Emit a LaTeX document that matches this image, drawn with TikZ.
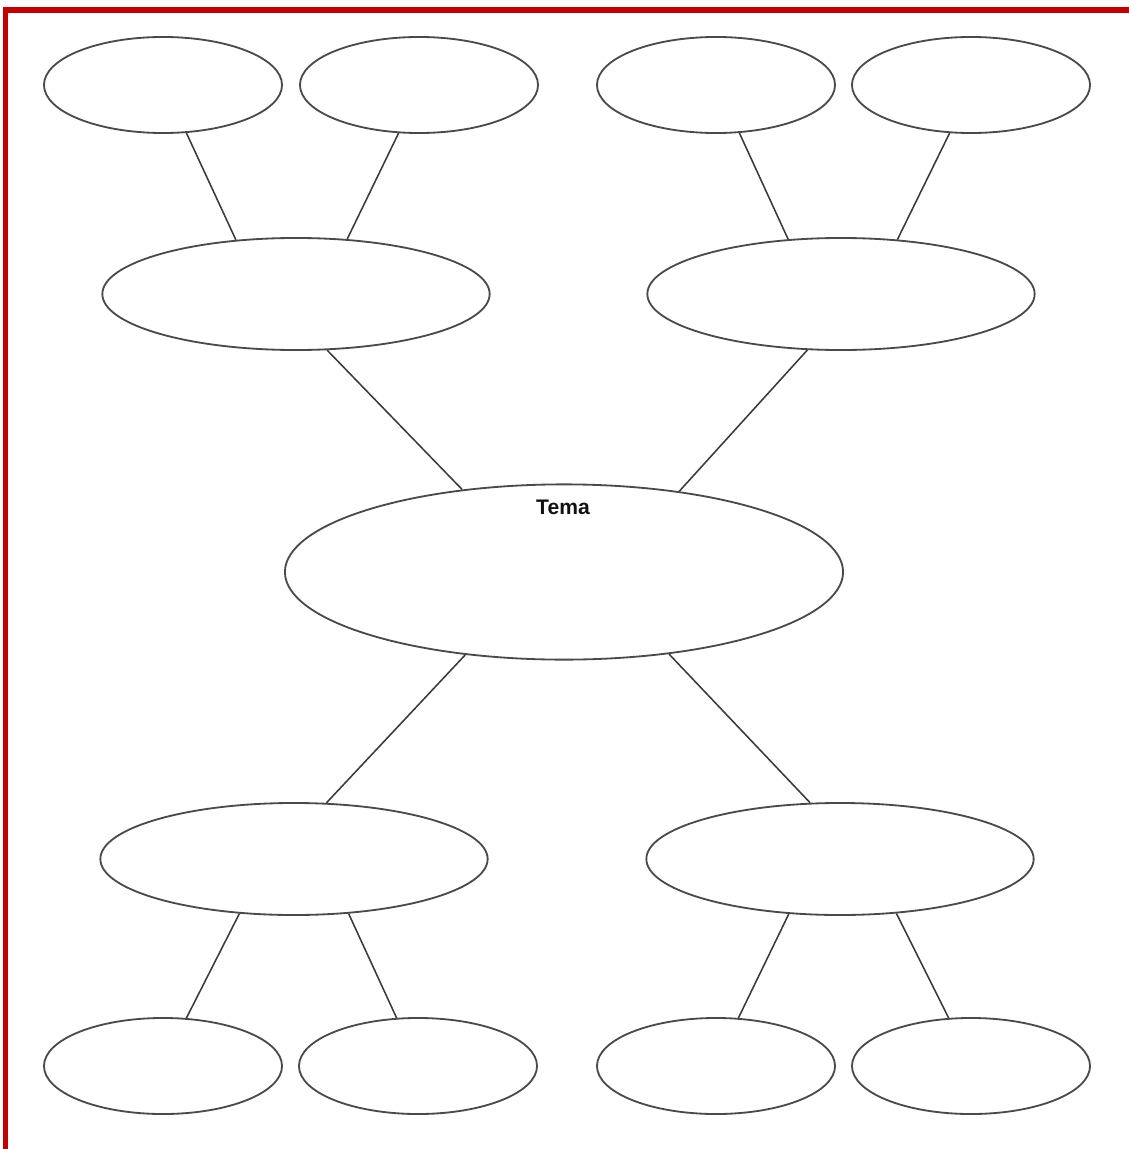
\documentclass[tikz,border=0pt]{standalone}
\usepackage{fontspec}
\setsansfont{Liberation Sans}
\usetikzlibrary{shapes.geometric}
\definecolor{Frame}{HTML}{C40000}
\definecolor{Outline}{HTML}{4A4A4A}
\definecolor{Link}{HTML}{3A3A3A}
\definecolor{Text}{HTML}{111111}

\begin{document}
\begin{tikzpicture}[
  x=0.025cm, y=-0.025cm,
  font=\sffamily,
  bubble/.style={
    ellipse,
    draw=Outline,
    line width=1.3pt,
    fill=white,
    inner sep=0pt
  },
  leaf/.style={
    bubble,
    minimum width=5.95cm,
    minimum height=2.4cm
  },
  branch/.style={
    bubble,
    minimum width=9.68cm,
    minimum height=2.8cm
  },
  core/.style={
    bubble,
    minimum width=13.95cm,
    minimum height=4.38cm
  },
  link/.style={
    draw=Link,
    line width=1.1pt
  },
  title/.style={
    text=Text,
    font=\sffamily\bfseries\fontsize{15}{18}\selectfont,
    inner sep=0pt
  }
]

\useasboundingbox[fill=white] (0,0) rectangle (1129,1149);
\fill[Frame] (3,7) rectangle (1129,13);
\fill[Frame] (3,7) rectangle (8,1149);

% centre
\node[core] (tema) at (564,572) {};
\node[title] (temalabel) at (563,507) {Tema};

% branches
\node[branch] (nw) at (296,294) {};
\node[branch] (ne) at (841,294) {};
\node[branch] (sw) at (294,859) {};
\node[branch] (se) at (840,859) {};

% leaves
\node[leaf] (nw1) at (163,85) {};
\node[leaf] (nw2) at (419,85) {};
\node[leaf] (ne1) at (716,85) {};
\node[leaf] (ne2) at (971,85) {};
\node[leaf] (sw1) at (163,1066) {};
\node[leaf] (sw2) at (418,1066) {};
\node[leaf] (se1) at (716,1066) {};
\node[leaf] (se2) at (971,1066) {};

% links to the centre
\draw[link] (nw.-61) -- (tema.141);
\draw[link] (ne.-121) -- (tema.35.5);
\draw[link] (sw.60) -- (tema.-140);
\draw[link] (se.118.5) -- (tema.-38);

% links to the leaves
\draw[link] (nw1.-64) -- (nw.138);
\draw[link] (nw2.-113) -- (nw.47);
\draw[link] (ne1.-64) -- (ne.134);
\draw[link] (ne2.-114) -- (ne.44);
\draw[link] (sw.-135) -- (sw1.64);
\draw[link] (sw.-45) -- (sw2.114);
\draw[link] (se.-133) -- (se1.65);
\draw[link] (se.-44) -- (se2.115);

\end{tikzpicture}
\end{document}
